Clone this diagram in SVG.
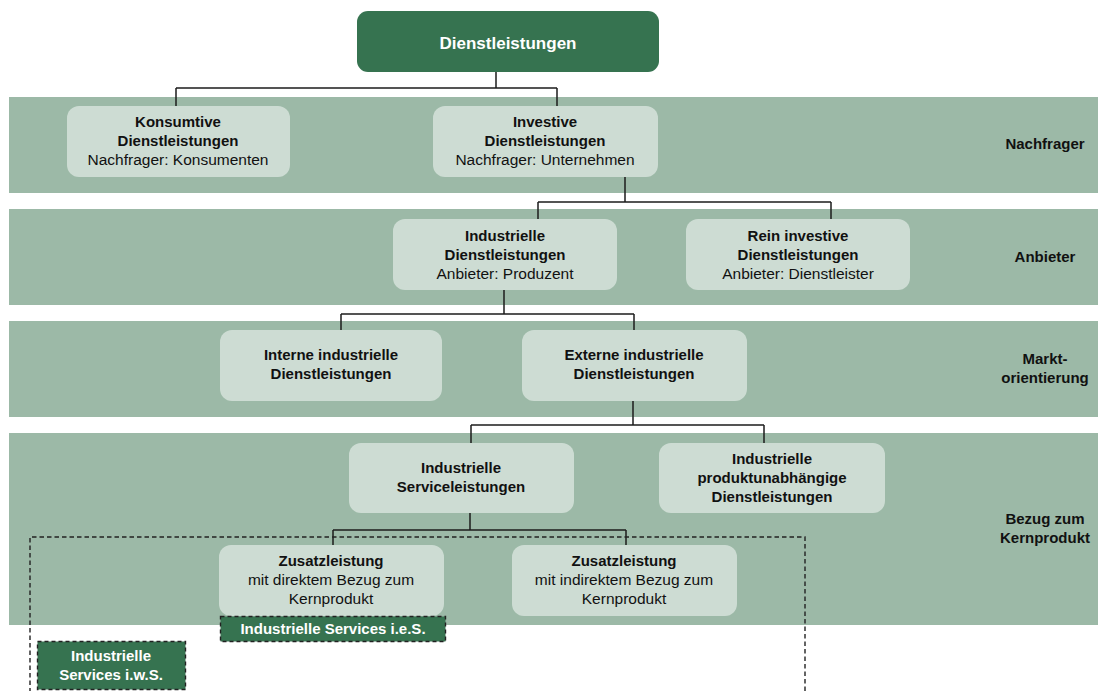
<svg xmlns="http://www.w3.org/2000/svg" width="1098" height="691" viewBox="0 0 1098 691">
  <style>
    .band { fill: #9cb9a7; }
    .node { fill: #cddcd3; }
    .root { fill: #367350; }
    .tag { fill: #367350; stroke: #222222; stroke-width: 1.4; stroke-dasharray: 4 3; }
    text { font-family: "Liberation Sans", Arial, sans-serif; font-size: 15.5px; fill: #111111; text-anchor: middle; }
    .b { font-weight: bold; font-size: 15px; }
    .w { fill: #ffffff; font-weight: bold; font-size: 15px; }
    .side { font-weight: bold; font-size: 15px; }
    .wire { fill: none; stroke: #1c1c1c; stroke-width: 1.5; }
    .frame { fill: none; stroke: #222222; stroke-width: 1.4; stroke-dasharray: 4.5 3; }
  </style>

  <!-- level bands -->
  <g id="bands">
    <rect class="band" x="9" y="97" width="1089" height="96"/>
    <rect class="band" x="9" y="209" width="1089" height="96"/>
    <rect class="band" x="9" y="321" width="1089" height="96"/>
    <rect class="band" x="9" y="433" width="1089" height="192"/>
  </g>

  <!-- level labels -->
  <g id="levels">
    <text class="side" x="1045" y="149">Nachfrager</text>
    <text class="side" x="1045" y="262">Anbieter</text>
    <text class="side" x="1045" y="364">Markt-</text>
    <text class="side" x="1045" y="383">orientierung</text>
    <text class="side" x="1045" y="524">Bezug zum</text>
    <text class="side" x="1045" y="543">Kernprodukt</text>
  </g>

  <!-- connectors -->
  <g id="connectors">
    <path class="wire" d="M496 72 V88 M176 88 H557 M176 88 V106 M557 88 V106"/>
    <path class="wire" d="M625 177 V202 M538 202 H831 M538 202 V219 M831 202 V219"/>
    <path class="wire" d="M504 290 V314 M341 314 H634 M341 314 V330 M634 314 V330"/>
    <path class="wire" d="M633 401 V425 M471 425 H764 M471 425 V443 M764 425 V443"/>
    <path class="wire" d="M470 513 V530 M333 530 H626 M333 530 V545 M626 530 V545"/>
  </g>

  <!-- scope frame for services in the wider sense -->
  <path id="frame-iws" class="frame" d="M30 700 V537 H805 V700"/>

  <g id="n-dienstleistungen">
    <rect class="root" x="357" y="11" width="302" height="61" rx="11"/>
    <text class="w" x="508" y="49" style="font-size:17px">Dienstleistungen</text>
  </g>

  <g id="n-konsumtiv">
    <rect class="node" x="67" y="106" width="223" height="71" rx="12"/>
    <text class="b" x="178" y="127">Konsumtive</text>
    <text class="b" x="178" y="146">Dienstleistungen</text>
    <text x="178" y="165">Nachfrager: Konsumenten</text>
  </g>

  <g id="n-investiv">
    <rect class="node" x="433" y="106" width="225" height="71" rx="12"/>
    <text class="b" x="545" y="127">Investive</text>
    <text class="b" x="545" y="146">Dienstleistungen</text>
    <text x="545" y="165">Nachfrager: Unternehmen</text>
  </g>

  <g id="n-industriell">
    <rect class="node" x="393" y="219" width="224" height="71" rx="12"/>
    <text class="b" x="505" y="241">Industrielle</text>
    <text class="b" x="505" y="260">Dienstleistungen</text>
    <text x="505" y="279">Anbieter: Produzent</text>
  </g>

  <g id="n-rein-investiv">
    <rect class="node" x="686" y="219" width="224" height="71" rx="12"/>
    <text class="b" x="798" y="241">Rein investive</text>
    <text class="b" x="798" y="260">Dienstleistungen</text>
    <text x="798" y="279">Anbieter: Dienstleister</text>
  </g>

  <g id="n-intern">
    <rect class="node" x="220" y="330" width="222" height="71" rx="12"/>
    <text class="b" x="331" y="360">Interne industrielle</text>
    <text class="b" x="331" y="379">Dienstleistungen</text>
  </g>

  <g id="n-extern">
    <rect class="node" x="522" y="330" width="225" height="71" rx="12"/>
    <text class="b" x="634" y="360">Externe industrielle</text>
    <text class="b" x="634" y="379">Dienstleistungen</text>
  </g>

  <g id="n-service">
    <rect class="node" x="349" y="443" width="225" height="70" rx="12"/>
    <text class="b" x="461" y="473">Industrielle</text>
    <text class="b" x="461" y="492">Serviceleistungen</text>
  </g>

  <g id="n-produktunabhaengig">
    <rect class="node" x="659" y="443" width="226" height="70" rx="12"/>
    <text class="b" x="772" y="464">Industrielle</text>
    <text class="b" x="772" y="483">produktunabhängige</text>
    <text class="b" x="772" y="502">Dienstleistungen</text>
  </g>

  <g id="n-zusatz-direkt">
    <rect class="node" x="219" y="545" width="225" height="71" rx="12"/>
    <text class="b" x="331" y="566">Zusatzleistung</text>
    <text x="331" y="585">mit direktem Bezug zum</text>
    <text x="331" y="604">Kernprodukt</text>
  </g>

  <g id="n-zusatz-indirekt">
    <rect class="node" x="512" y="545" width="225" height="71" rx="12"/>
    <text class="b" x="624" y="566">Zusatzleistung</text>
    <text x="624" y="585">mit indirektem Bezug zum</text>
    <text x="624" y="604">Kernprodukt</text>
  </g>

  <g id="tag-ies">
    <rect class="tag" x="220.5" y="616.5" width="225" height="25"/>
    <text class="w" x="333" y="634">Industrielle Services i.e.S.</text>
  </g>

  <g id="tag-iws">
    <rect class="tag" x="37.5" y="641.5" width="148" height="48"/>
    <text class="w" x="111" y="661">Industrielle</text>
    <text class="w" x="111" y="680">Services i.w.S.</text>
  </g>
</svg>
